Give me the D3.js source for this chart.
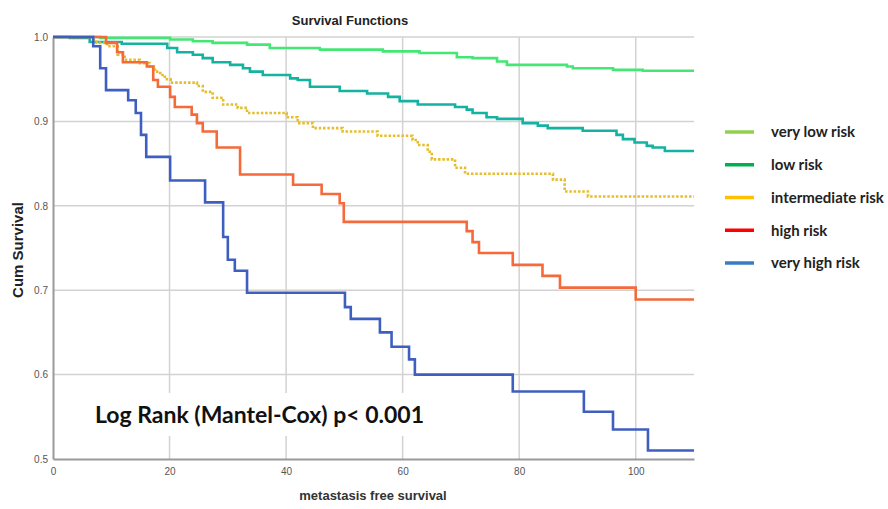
<!DOCTYPE html>
<html>
<head>
<meta charset="utf-8">
<script src="https://cdn.jsdelivr.net/npm/d3@7"></script>
<style>
  body { margin: 0; background: #fff; }
  svg { display: block; }
</style>
</head>
<body>
<svg id="chart"></svg>
<script>
// step times (months) and cumulative survival
const veryLowTimes = [0, 8.1, 20.1, 24.0, 27.4, 33.3, 37.2, 45.8, 56.6, 62.9, 69.3, 72.0, 76.2, 77.9, 88.2, 89.2, 96.1, 101.2];
const veryLowSurv  = [1, 0.999, 0.997, 0.995, 0.993, 0.991, 0.987, 0.985, 0.983, 0.981, 0.976, 0.975, 0.971, 0.967, 0.965, 0.963, 0.961, 0.960];

const lowTimes = [0, 2.9, 6.3, 11.8, 19.6, 21.3, 24.0, 25.7, 27.4, 30.4, 32.6, 33.8, 36.0, 40.7, 42.0, 44.1, 49.2, 53.9, 57.5, 59.5, 62.6, 69.0, 71.0, 72.0, 74.4, 76.2, 80.6, 83.2, 84.9, 90.9, 96.7, 97.8, 99.8, 101.9, 102.9, 105.0];
const lowSurv  = [1, 0.999, 0.994, 0.992, 0.987, 0.982, 0.979, 0.975, 0.970, 0.967, 0.963, 0.959, 0.955, 0.951, 0.949, 0.941, 0.936, 0.933, 0.929, 0.924, 0.920, 0.917, 0.914, 0.910, 0.905, 0.903, 0.898, 0.895, 0.892, 0.889, 0.884, 0.879, 0.875, 0.871, 0.869, 0.865];

const interTimes = [0, 6.9, 7.5, 9.3, 11.1, 12.3, 14.9, 16.6, 17.5, 18.4, 19.2, 20.2, 24.7, 25.7, 27.4, 29.2, 31.7, 33.3, 40.1, 42.0, 44.6, 49.7, 55.7, 61.7, 62.6, 64.3, 65.0, 69.0, 70.7, 85.8, 87.8, 91.8];
const interSurv  = [1, 0.996, 0.993, 0.989, 0.979, 0.973, 0.969, 0.965, 0.959, 0.955, 0.950, 0.946, 0.942, 0.935, 0.928, 0.920, 0.916, 0.910, 0.905, 0.898, 0.892, 0.888, 0.883, 0.878, 0.872, 0.864, 0.855, 0.845, 0.838, 0.831, 0.817, 0.811];

const highTimes = [0, 9.1, 11.0, 12.0, 16.1, 17.2, 18.0, 20.1, 20.9, 23.8, 24.7, 25.7, 28.1, 32.1, 41.2, 46.1, 49.2, 49.9, 71.0, 72.0, 73.1, 78.9, 84.0, 87.0, 100.0];
const highSurv  = [1, 0.993, 0.982, 0.970, 0.965, 0.949, 0.941, 0.929, 0.917, 0.908, 0.898, 0.888, 0.869, 0.837, 0.825, 0.814, 0.803, 0.781, 0.770, 0.757, 0.744, 0.730, 0.717, 0.703, 0.689];

const veryHighTimes = [0, 6.9, 8.1, 9.1, 12.9, 14.2, 15.1, 16.0, 20.1, 26.1, 29.2, 30.0, 31.2, 33.3, 50.1, 51.1, 56.1, 58.1, 61.1, 62.1, 78.9, 91.1, 96.1, 102.1];
const veryHighSurv  = [1, 0.989, 0.963, 0.937, 0.925, 0.910, 0.884, 0.858, 0.830, 0.804, 0.763, 0.736, 0.723, 0.697, 0.680, 0.666, 0.650, 0.633, 0.618, 0.600, 0.580, 0.556, 0.535, 0.510];

const groupNames = ["very low risk", "low risk", "intermediate risk", "high risk", "very high risk"];
const lineColors = ["#44e674", "#14b2a0", "#e6bd2c", "#f5693a", "#3f5fc0"];
const legendColors = ["#92d050", "#00b050", "#ffc000", "#ff0000", "#3a7cc4"];
const xTicks = [0, 20, 40, 60, 80, 100];
const yTicks = [0.5, 0.6, 0.7, 0.8, 0.9, 1.0];
const xMax = 110;

const width = 888, height = 509;
const margin = { top: 37, right: 194, bottom: 50, left: 53 };

const svg = d3.select("#chart")
  .attr("width", width)
  .attr("height", height)
  .attr("viewBox", `0 0 ${width} ${height}`);

const x = d3.scaleLinear().domain([0, xMax]).range([margin.left, width - margin.right]);
const y = d3.scaleLinear().domain([0.5, 1.0]).range([height - margin.bottom, margin.top]);

const series = [
  [veryLowTimes, veryLowSurv],
  [lowTimes, lowSurv],
  [interTimes, interSurv],
  [highTimes, highSurv],
  [veryHighTimes, veryHighSurv]
].map(([t, s], i) => {
  const pts = t.map((d, j) => ({ t: d, s: s[j] }));
  pts.push({ t: xMax, s: s[s.length - 1] });
  return { name: groupNames[i], color: lineColors[i], pts };
});

// grid
svg.append("g")
  .selectAll("line.h")
  .data(yTicks.filter(d => d > 0.5))
  .enter().append("line")
  .attr("x1", x(0)).attr("x2", x(xMax))
  .attr("y1", d => y(d)).attr("y2", d => y(d))
  .attr("stroke", "#d2d2d2").attr("stroke-width", 1.5);

svg.append("g")
  .selectAll("line.v")
  .data(xTicks.filter(d => d > 0))
  .enter().append("line")
  .attr("x1", d => x(d)).attr("x2", d => x(d))
  .attr("y1", y(1.0)).attr("y2", y(0.5))
  .attr("stroke", "#d2d2d2").attr("stroke-width", 1.5);

// axes (labels only, no tick marks)
const yAxis = svg.append("g")
  .attr("transform", `translate(${margin.left},0)`)
  .call(d3.axisLeft(y).tickValues(yTicks).tickFormat(d3.format(".1f")).tickSize(0).tickPadding(5));
const xAxis = svg.append("g")
  .attr("transform", `translate(0,${height - margin.bottom})`)
  .call(d3.axisBottom(x).tickValues(xTicks).tickSize(0).tickPadding(9));
[yAxis, xAxis].forEach(a => {
  a.select(".domain").attr("stroke", "#9a9a9a").attr("stroke-width", 2);
  a.selectAll("text")
    .attr("fill", "#555")
    .style("font-family", "'Liberation Sans Narrow', 'Liberation Sans', Arial, sans-serif")
    .style("font-size", "10px");
});

// p-value label with white box that covers the grid
svg.append("rect")
  .attr("x", 90).attr("y", 393).attr("width", 342).attr("height", 43)
  .attr("fill", "#fff");
svg.append("text")
  .attr("x", 95).attr("y", 423)
  .style("font-family", "Lato, 'Open Sans', sans-serif")
  .style("font-weight", "bold")
  .style("font-size", "23px")
  .attr("fill", "#111")
  .text("Log Rank (Mantel-Cox) p< 0.001");

// survival curves
const line = d3.line()
  .x(d => x(d.t))
  .y(d => y(d.s))
  .curve(d3.curveStepAfter);

svg.append("g")
  .selectAll("path")
  .data(series)
  .enter().append("path")
  .attr("d", d => line(d.pts))
  .attr("fill", "none")
  .attr("stroke", d => d.color)
  .attr("stroke-width", 2.6)
  .attr("stroke-dasharray", (d, i) => i === 2 ? "2.5,1.8" : null);

// titles
svg.append("text")
  .attr("x", 350).attr("y", 25)
  .attr("text-anchor", "middle")
  .style("font-family", "'Liberation Sans Narrow', 'Liberation Sans', Arial, sans-serif")
  .style("font-weight", "bold")
  .style("font-size", "13px")
  .attr("fill", "#222")
  .text("Survival Functions");

svg.append("text")
  .attr("transform", `translate(23,250) rotate(-90)`)
  .attr("text-anchor", "middle")
  .style("font-family", "'Liberation Sans', Arial, sans-serif")
  .style("font-weight", "bold")
  .style("font-size", "15px")
  .attr("fill", "#222")
  .text("Cum Survival");

svg.append("text")
  .attr("x", 373).attr("y", 500)
  .attr("text-anchor", "middle")
  .style("font-family", "'Liberation Sans Narrow', 'Liberation Sans', Arial, sans-serif")
  .style("font-weight", "bold")
  .style("font-size", "13px")
  .attr("fill", "#333")
  .text("metastasis free survival");

// legend
const legendY = d3.scalePoint().domain(groupNames).range([132, 263]);
const legend = svg.append("g")
  .selectAll("g")
  .data(groupNames)
  .enter().append("g")
  .attr("transform", d => `translate(0,${legendY(d)})`);
legend.append("line")
  .attr("x1", 725).attr("x2", 754)
  .attr("stroke", (d, i) => legendColors[i])
  .attr("stroke-width", 3.5);
legend.append("text")
  .attr("x", 771).attr("dy", "0.35em")
  .style("font-family", "Lato, 'Open Sans', sans-serif")
  .style("font-weight", "bold")
  .style("font-size", "15px")
  .attr("fill", "#222")
  .text(d => d);
</script>
</body>
</html>
